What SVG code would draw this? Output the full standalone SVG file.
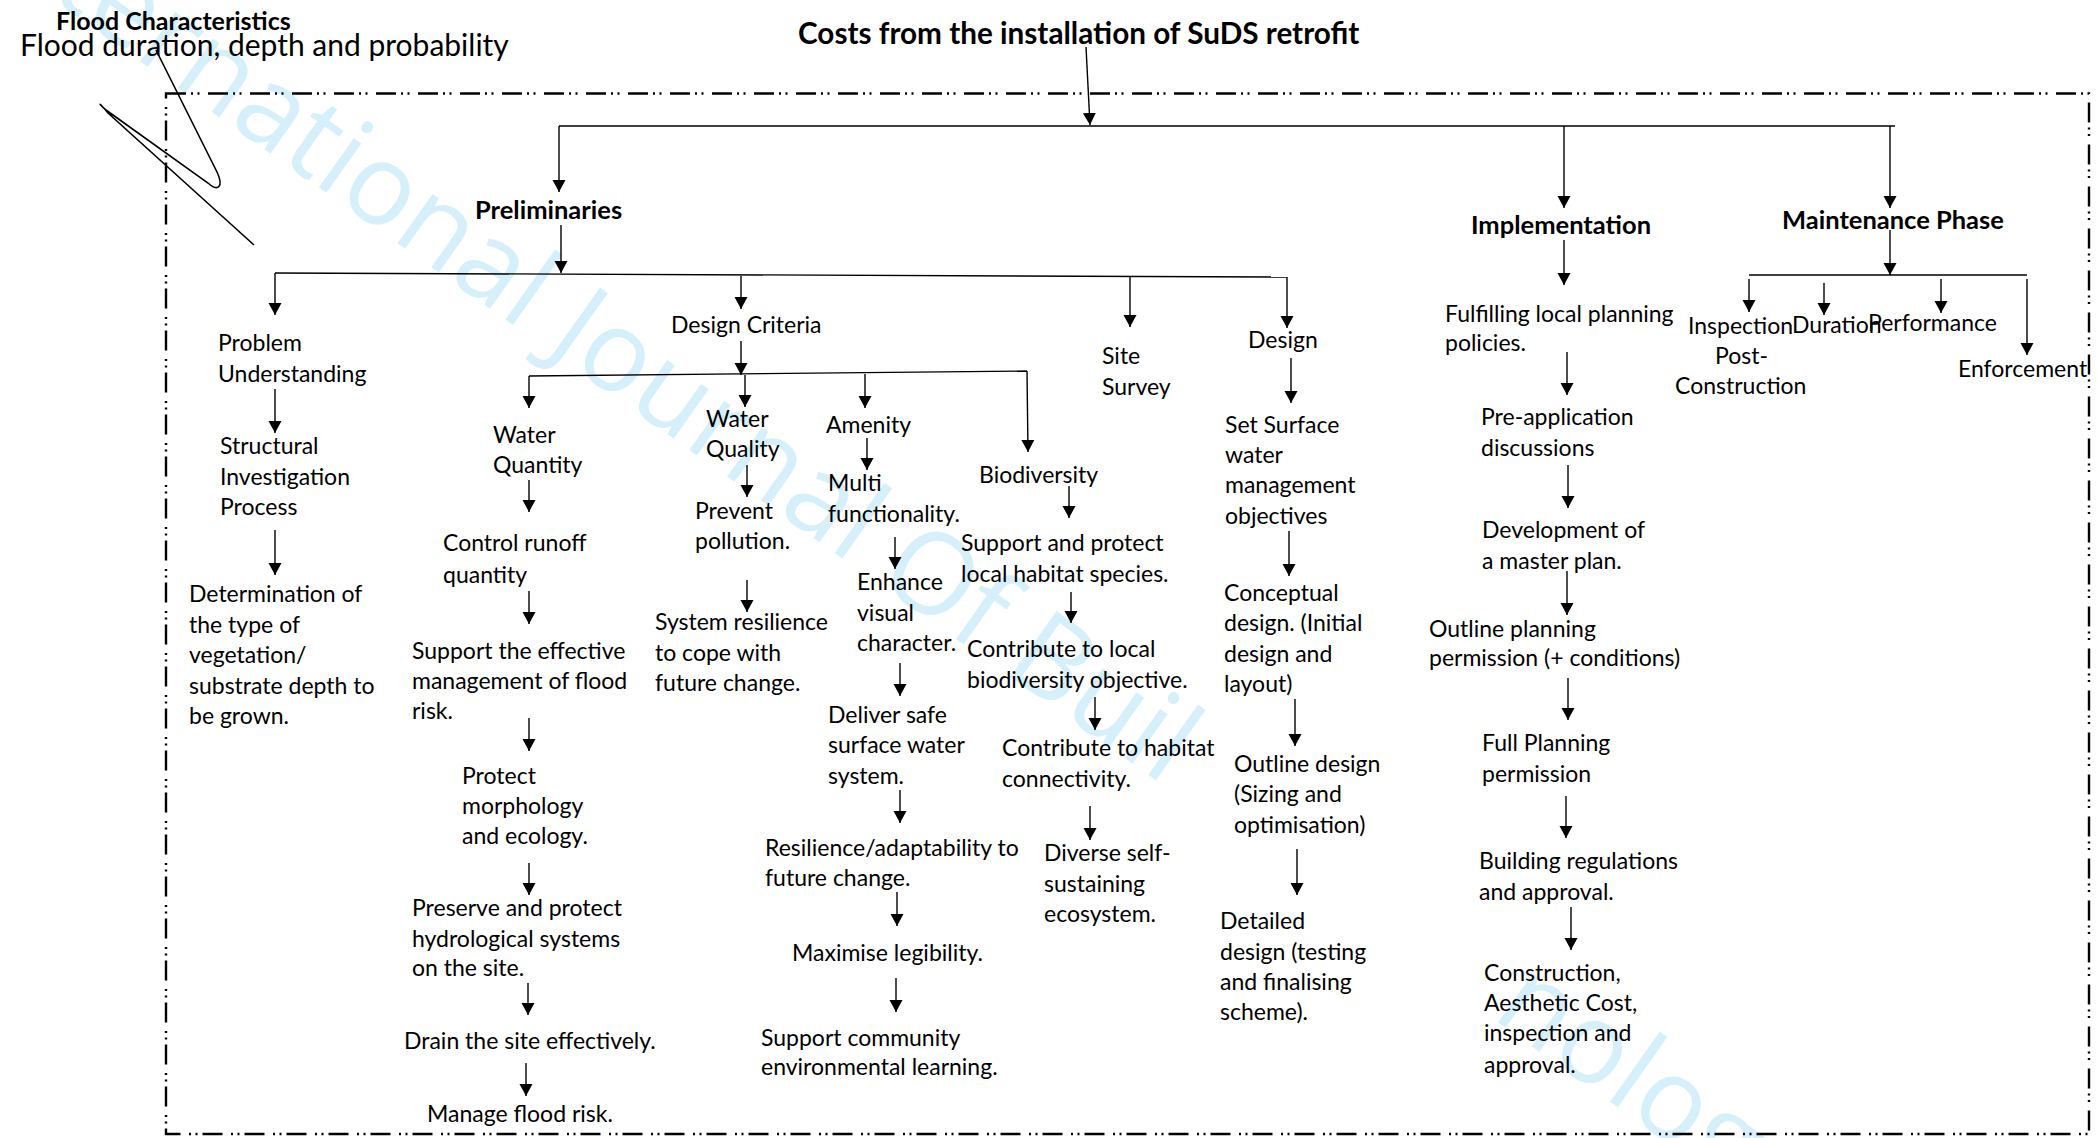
<svg xmlns="http://www.w3.org/2000/svg" width="2097" height="1138" viewBox="0 0 2097 1138">
<style>
  text { font-family: Lato, "Liberation Sans", sans-serif; fill: #000; }
  .t { font-size: 23px; }
  .h { font-size: 25.5px; font-weight: bold; }
  .wm { font-family: "Open Sans", "Noto Sans", sans-serif; font-size: 113px; fill: #d5effb; }
  .c { stroke: #000; stroke-width: 1.4; fill: none; marker-end: url(#ah); }
  .l { stroke: #000; stroke-width: 1.4; fill: none; }
  .frame { fill: none; stroke: #000; stroke-width: 2.4; stroke-dasharray: 20 5 2 4.5 2 8.5; }
</style>
<defs>
  <marker id="ah" markerUnits="userSpaceOnUse" markerWidth="14" markerHeight="14" refX="12" refY="6.5" orient="auto">
    <path d="M0,0 L12,6.5 L0,13 z" fill="#000"/>
  </marker>
</defs>
<rect width="2097" height="1138" fill="#fff"/>
<g id="watermark" transform="translate(-34.4,-62.5) rotate(35.3)">
  <text class="wm" x="0" y="0">International Journal Of Buil</text>
  <text class="wm" x="1868" y="0">nology</text>
</g>

<rect class="frame" x="166" y="93.5" width="1923" height="1040.5"/>
<path d="M156,50 L217,172 C224,187 218,192 208,183 L106,110 C98,103 98,101 108,113 L254,245" fill="none" stroke="#000" stroke-width="1.6"/>

<g id="connectors">
  <path class="c" d="M1086,47 L1090,125"/>
  <path class="l" d="M559,126 H1895"/>
  <path class="c" d="M559,126 V192"/>
  <path class="c" d="M1564,126 V208"/>
  <path class="c" d="M1890,126 V208"/>
  <path class="c" d="M561,225 V273"/>
  <path class="l" d="M275,273 L1287,277"/>
  <path class="c" d="M275,273 V315"/>
  <path class="c" d="M741,276 V309"/>
  <path class="c" d="M1130,277 V327"/>
  <path class="c" d="M1287,277 V328"/>
  <path class="c" d="M275,389 V433"/>
  <path class="c" d="M275,530 V575"/>
  <path class="c" d="M741,341 V375"/>
  <path class="l" d="M529,376 L1027,371"/>
  <path class="c" d="M529,376 V408"/>
  <path class="c" d="M745,375 V407"/>
  <path class="c" d="M865,374 V408"/>
  <path class="c" d="M1027,371 L1028,452"/>
  <path class="c" d="M529,480 V512"/>
  <path class="c" d="M529,591 V624"/>
  <path class="c" d="M529,718 V751"/>
  <path class="c" d="M529,863 V895"/>
  <path class="c" d="M528,983 V1015"/>
  <path class="c" d="M526,1063 V1096"/>
  <path class="c" d="M747,465 V497"/>
  <path class="c" d="M747,580 V612"/>
  <path class="c" d="M867,438 V470"/>
  <path class="c" d="M895,537 V569"/>
  <path class="c" d="M900,663 V696"/>
  <path class="c" d="M900,790 V823"/>
  <path class="c" d="M897,892 V926"/>
  <path class="c" d="M896,978 V1012"/>
  <path class="c" d="M1069,486 V518"/>
  <path class="c" d="M1071,592 V623"/>
  <path class="c" d="M1095,697 V730"/>
  <path class="c" d="M1090,806 V840"/>
  <path class="c" d="M1291,358 V403"/>
  <path class="c" d="M1289,531 V576"/>
  <path class="c" d="M1295,699 V746"/>
  <path class="c" d="M1297,849 V895"/>
  <path class="c" d="M1564,240 V285"/>
  <path class="c" d="M1567,352 V395"/>
  <path class="c" d="M1568,465 V508"/>
  <path class="c" d="M1567,571 V615"/>
  <path class="c" d="M1568,678 V720"/>
  <path class="c" d="M1566,796 V838"/>
  <path class="c" d="M1571,907 V950"/>
  <path class="c" d="M1890,230 V275"/>
  <path class="l" d="M1749,275 H2027"/>
  <path class="c" d="M1749,279 V312"/>
  <path class="c" d="M1824,283 V315"/>
  <path class="c" d="M1941,279 V313"/>
  <path class="c" d="M2027,279 V355"/>
</g>

<g id="nodes" transform="translate(0,1)">
<g id="flood-characteristics"><text x="56" y="29" style="font-size:25px;font-weight:bold">Flood Characteristics</text>
<text x="20" y="55" style="font-size:30px">Flood duration, depth and probability</text></g>
<g id="title"><text x="798" y="43" style="font-size:29.7px;font-weight:bold">Costs from the installation of SuDS retrofit</text></g>
<g id="preliminaries"><text class="h" x="475" y="218">Preliminaries</text></g>
<g id="implementation"><text class="h" x="1471" y="233">Implementation</text></g>
<g id="maintenance"><text class="h" x="1782" y="228">Maintenance Phase</text></g>

<g id="problem"><text class="t"><tspan x="218" y="350">Problem</tspan><tspan x="218" y="381">Understanding</tspan></text></g>
<g id="structural"><text class="t"><tspan x="220" y="453">Structural</tspan><tspan x="220" y="484">Investigation</tspan><tspan x="220" y="514">Process</tspan></text></g>
<g id="determination"><text class="t"><tspan x="189" y="601">Determination of</tspan><tspan x="189" y="632">the type of</tspan><tspan x="189" y="662">vegetation/</tspan><tspan x="189" y="693">substrate depth to</tspan><tspan x="189" y="723">be grown.</tspan></text></g>
<g id="design-criteria"><text class="t" x="671" y="332">Design Criteria</text></g>
<g id="site-survey"><text class="t"><tspan x="1102" y="363">Site</tspan><tspan x="1102" y="394">Survey</tspan></text></g>
<g id="design"><text class="t" x="1248" y="347">Design</text></g>

<g id="water-quantity"><text class="t"><tspan x="493" y="442">Water</tspan><tspan x="493" y="472">Quantity</tspan></text></g>
<g id="control-runoff"><text class="t"><tspan x="443" y="550">Control runoff</tspan><tspan x="443" y="582">quantity</tspan></text></g>
<g id="support-effective"><text class="t"><tspan x="412" y="658">Support the effective</tspan><tspan x="412" y="688">management of flood</tspan><tspan x="412" y="718">risk.</tspan></text></g>
<g id="protect"><text class="t"><tspan x="462" y="783">Protect</tspan><tspan x="462" y="813">morphology</tspan><tspan x="462" y="843">and ecology.</tspan></text></g>
<g id="preserve"><text class="t"><tspan x="412" y="915">Preserve and protect</tspan><tspan x="412" y="946">hydrological systems</tspan><tspan x="412" y="975">on the site.</tspan></text></g>
<g id="drain"><text class="t" x="404" y="1048">Drain the site effectively.</text></g>
<g id="manage"><text class="t" x="427" y="1121">Manage flood risk.</text></g>

<g id="water-quality"><text class="t"><tspan x="706" y="426">Water</tspan><tspan x="706" y="456">Quality</tspan></text></g>
<g id="prevent"><text class="t"><tspan x="695" y="518">Prevent</tspan><tspan x="695" y="548">pollution.</tspan></text></g>
<g id="system-resilience"><text class="t"><tspan x="655" y="629">System resilience</tspan><tspan x="655" y="660">to cope with</tspan><tspan x="655" y="690">future change.</tspan></text></g>

<g id="amenity"><text class="t" x="826" y="432">Amenity</text></g>
<g id="multi"><text class="t"><tspan x="828" y="490">Multi</tspan><tspan x="828" y="521">functionality.</tspan></text></g>
<g id="enhance"><text class="t"><tspan x="857" y="589">Enhance</tspan><tspan x="857" y="620">visual</tspan><tspan x="857" y="650">character.</tspan></text></g>
<g id="deliver"><text class="t"><tspan x="828" y="722">Deliver safe</tspan><tspan x="828" y="752">surface water</tspan><tspan x="828" y="783">system.</tspan></text></g>
<g id="resilience"><text class="t"><tspan x="765" y="855">Resilience/adaptability to</tspan><tspan x="765" y="885">future change.</tspan></text></g>
<g id="maximise"><text class="t" x="792" y="960">Maximise legibility.</text></g>
<g id="support-community"><text class="t"><tspan x="761" y="1045">Support community</tspan><tspan x="761" y="1074">environmental learning.</tspan></text></g>

<g id="biodiversity"><text class="t" x="979" y="482">Biodiversity</text></g>
<g id="support-protect"><text class="t"><tspan x="961" y="550">Support and protect</tspan><tspan x="961" y="581">local habitat species.</tspan></text></g>
<g id="contribute-local"><text class="t"><tspan x="967" y="656">Contribute to local</tspan><tspan x="967" y="687">biodiversity objective.</tspan></text></g>
<g id="contribute-habitat"><text class="t"><tspan x="1002" y="755">Contribute to habitat</tspan><tspan x="1002" y="786">connectivity.</tspan></text></g>
<g id="diverse"><text class="t"><tspan x="1044" y="860">Diverse self-</tspan><tspan x="1044" y="891">sustaining</tspan><tspan x="1044" y="921">ecosystem.</tspan></text></g>

<g id="set-surface"><text class="t"><tspan x="1225" y="432">Set Surface</tspan><tspan x="1225" y="462">water</tspan><tspan x="1225" y="492">management</tspan><tspan x="1225" y="523">objectives</tspan></text></g>
<g id="conceptual"><text class="t"><tspan x="1224" y="600">Conceptual</tspan><tspan x="1224" y="630">design. (Initial</tspan><tspan x="1224" y="661">design and</tspan><tspan x="1224" y="691">layout)</tspan></text></g>
<g id="outline-design"><text class="t"><tspan x="1234" y="771">Outline design</tspan><tspan x="1234" y="801">(Sizing and</tspan><tspan x="1234" y="832">optimisation)</tspan></text></g>
<g id="detailed"><text class="t"><tspan x="1220" y="928">Detailed</tspan><tspan x="1220" y="959">design (testing</tspan><tspan x="1220" y="989">and finalising</tspan><tspan x="1220" y="1019">scheme).</tspan></text></g>

<g id="fulfilling"><text class="t"><tspan x="1445" y="321">Fulfilling local planning</tspan><tspan x="1445" y="350">policies.</tspan></text></g>
<g id="pre-application"><text class="t"><tspan x="1481" y="424">Pre-application</tspan><tspan x="1481" y="455">discussions</tspan></text></g>
<g id="development"><text class="t"><tspan x="1482" y="537">Development of</tspan><tspan x="1482" y="568">a master plan.</tspan></text></g>
<g id="outline-planning"><text class="t"><tspan x="1429" y="636">Outline planning</tspan><tspan x="1429" y="665">permission (+ conditions)</tspan></text></g>
<g id="full-planning"><text class="t"><tspan x="1482" y="750">Full Planning</tspan><tspan x="1482" y="781">permission</tspan></text></g>
<g id="building-regs"><text class="t"><tspan x="1479" y="868">Building regulations</tspan><tspan x="1479" y="899">and approval.</tspan></text></g>
<g id="construction"><text class="t"><tspan x="1484" y="980">Construction,</tspan><tspan x="1484" y="1010">Aesthetic Cost,</tspan><tspan x="1484" y="1040">inspection and</tspan><tspan x="1484" y="1072">approval.</tspan></text></g>

<g id="inspection"><text class="t"><tspan x="1688" y="333">Inspection</tspan><tspan x="1715" y="363">Post-</tspan><tspan x="1675" y="393">Construction</tspan></text></g>
<g id="duration"><text class="t" x="1792" y="332">Duration</text></g>
<g id="performance"><text class="t" x="1868" y="330">Performance</text></g>
<g id="enforcement"><text class="t" x="1958" y="376">Enforcement</text></g>
</g>
</svg>
